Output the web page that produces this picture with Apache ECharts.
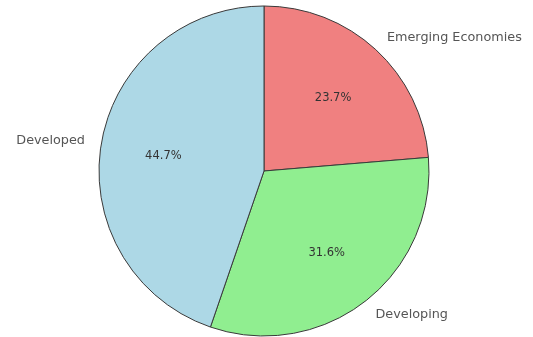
<!DOCTYPE html>
<html>
<head>
<meta charset="utf-8">
<script src="https://cdn.jsdelivr.net/npm/echarts@6/dist/echarts.min.js"></script>
<style>
html,body{margin:0;padding:0;background:#fff;}
#chart{width:533px;height:337px;}
</style>
</head>
<body>
<div id="chart"></div>
<script>
const categories = ['Emerging Economies', 'Developing', 'Developed'];
const values = [4.5, 6, 8.5];
const colors = ['#F08080', '#90EE90', '#ADD8E6'];

const R = 165;
const center = [264, 171];
const font = 'DejaVu Sans, sans-serif';

const mainData = categories.map((c, i) => ({ name: c, value: values[i], itemStyle: { color: colors[i] } }));
const plainData = categories.map((c, i) => ({ name: c, value: values[i] }));

const chart = echarts.init(document.getElementById('chart'));
chart.setOption({
  animation: false,
  backgroundColor: '#fff',
  series: [
    {
      type: 'pie',
      center: center,
      radius: R,
      startAngle: 90,
      clockwise: true,
      silent: true,
      label: { show: false },
      labelLine: { show: false },
      itemStyle: { borderColor: '#3a3a3a', borderWidth: 1 },
      data: mainData
    },
    {
      type: 'pie',
      center: center,
      radius: R * 1.2,
      startAngle: 90,
      clockwise: true,
      silent: true,
      percentPrecision: 1,
      avoidLabelOverlap: false,
      itemStyle: { color: 'transparent', borderWidth: 0 },
      label: {
        show: true,
        position: 'inside',
        formatter: '{d}%',
        color: '#333',
        fontSize: 11.5,
        fontFamily: font,
        offset: [0, 2]
      },
      labelLine: { show: false },
      data: plainData
    },
    {
      type: 'pie',
      center: center,
      radius: R * 1.1,
      startAngle: 90,
      clockwise: true,
      silent: true,
      avoidLabelOverlap: false,
      itemStyle: { color: 'transparent', borderWidth: 0 },
      label: {
        show: true,
        position: 'outside',
        alignTo: 'none',
        distanceToLabelLine: 0,
        formatter: '{b}',
        color: '#555',
        fontSize: 12.8,
        fontFamily: font
      },
      labelLine: { show: false, length: 0, length2: 0 },
      data: plainData
    }
  ]
});
</script>
</body>
</html>
